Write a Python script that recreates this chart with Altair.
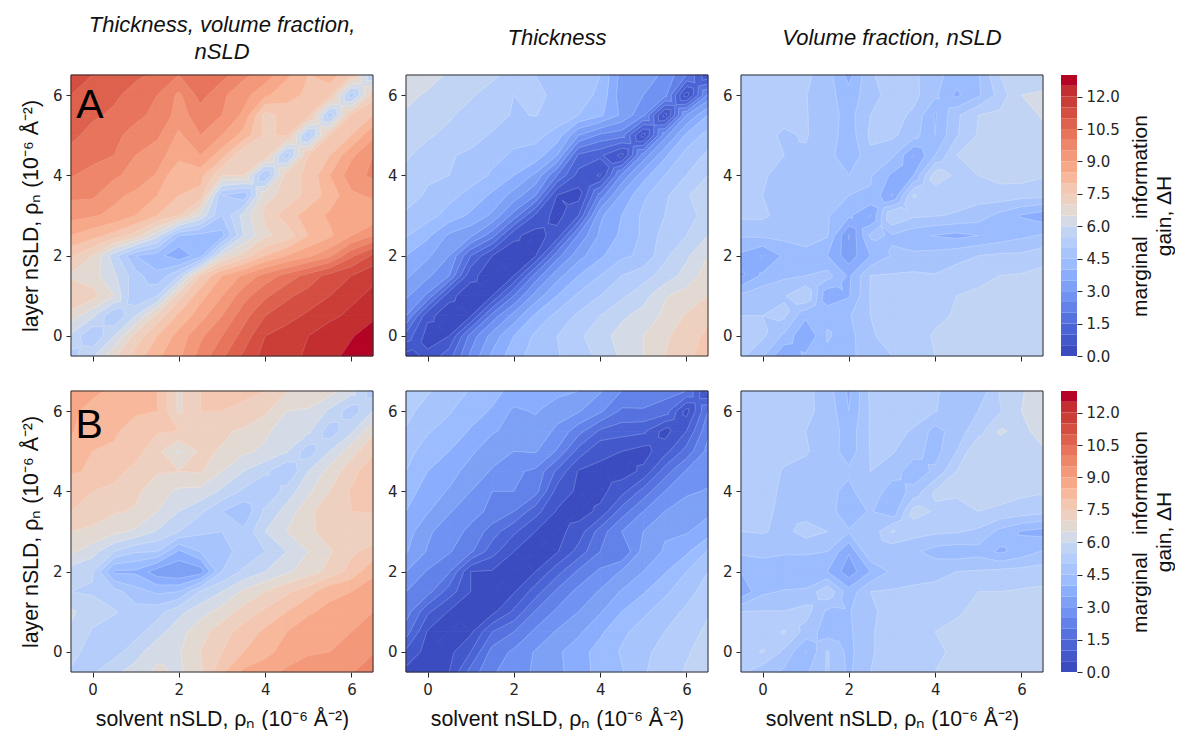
import altair as alt
import pandas as pd

AXIS_STEPS = [-0.5, 0.0, 0.5, 1.0, 1.5, 2.0, 2.5, 3.0, 3.5, 4.0, 4.5, 5.0, 5.5, 6.0, 6.5]
LEVELS = [i * 0.5 for i in range(27)]
BAND_COLORS = ["#3b4cc0", "#4358cb", "#4b64d5", "#5572df", "#6282ea", "#7093f3", "#7ea1f6", "#8badfd", "#9bbcff",
               "#a8c4fd", "#b5cdfa", "#c1d4f4", "#d4dbe6", "#e3d9d3", "#eed0c0", "#f3c7b1", "#f7b89c", "#f7a889",
               "#f4987a", "#ee8669", "#e7745b", "#de614d", "#d44e41", "#cb3e38", "#c32e31", "#b40426"]

# Rows run from layer nSLD 6.5 (first) down to -0.5 (last); columns from solvent nSLD -0.5 to 6.5.
PANEL_A1 = [
    [11.1, 11.0, 10.9, 10.6, 10.4, 10.0, 10.4, 10.2, 9.6, 9.3, 8.6, 8.0, 8.3, 7.5, 5.5],
    [11.0, 10.8, 10.6, 10.3, 10.0, 9.4, 10.2, 9.6, 9.2, 8.6, 8.2, 7.9, 7.6, 5.2, 7.3],
    [10.9, 10.6, 10.4, 10.1, 9.9, 9.3, 9.75, 9.5, 8.9, 7.3, 7.7, 7.7, 5.2, 7.6, 8.0],
    [10.65, 10.3, 10.1, 9.85, 9.6, 8.9, 9.5, 9.0, 8.3, 7.4, 7.6, 5.2, 7.5, 8.0, 8.9],
    [10.3, 10.2, 10.0, 9.5, 9.2, 8.7, 9.0, 8.2, 7.0, 7.4, 5.2, 7.5, 8.0, 8.9, 9.5],
    [10.05, 9.8, 9.6, 9.3, 8.95, 8.0, 8.2, 7.0, 7.0, 4.9, 7.3, 7.6, 8.5, 9.3, 9.6],
    [9.6, 9.6, 9.1, 8.9, 8.5, 8.0, 7.8, 5.0, 4.6, 6.9, 7.1, 7.7, 8.2, 8.9, 9.1],
    [9.2, 9.05, 8.9, 8.5, 8.0, 7.5, 6.4, 5.0, 6.2, 7.1, 7.8, 8.2, 8.6, 8.8, 8.6],
    [8.5, 8.2, 7.8, 7.3, 6.2, 4.5, 4.3, 4.3, 6.0, 6.9, 7.2, 8.0, 8.4, 9.0, 9.5],
    [7.6, 7.0, 5.7, 4.5, 4.2, 3.6, 4.3, 6.5, 7.2, 8.0, 8.5, 8.9, 9.4, 10.4, 11.1],
    [6.9, 6.7, 6.1, 5.2, 4.6, 5.5, 7.5, 8.5, 9.1, 9.7, 10.2, 10.7, 11.2, 11.5, 11.9],
    [7.5, 7.2, 6.5, 5.0, 5.5, 7.3, 8.3, 9.0, 9.8, 10.4, 10.9, 11.2, 11.5, 11.9, 12.1],
    [6.8, 6.1, 5.0, 6.0, 7.2, 8.1, 8.8, 9.5, 10.3, 11.0, 11.3, 11.6, 11.9, 12.1, 12.4],
    [5.9, 5.0, 6.0, 7.2, 8.0, 8.7, 9.4, 10.0, 10.7, 11.5, 11.75, 12.0, 12.25, 12.45, 12.8],
    [5.3, 5.9, 6.9, 7.7, 8.4, 8.9, 9.7, 10.4, 11.1, 11.7, 11.9, 12.05, 12.3, 12.7, 12.95],
]
PANEL_A2 = [
    [6.3, 6.15, 5.95, 5.8, 5.6, 5.3, 5.0, 4.9, 4.7, 4.5, 3.3, 3.25, 2.9, 2.0, 0.6],
    [6.1, 5.95, 5.75, 5.55, 5.3, 5.0, 5.1, 4.9, 4.7, 4.4, 3.2, 3.0, 2.7, 0.25, 2.6],
    [5.95, 5.75, 5.55, 5.35, 5.2, 4.95, 5.02, 4.8, 4.5, 4.1, 3.4, 2.6, 0.3, 3.0, 4.0],
    [5.75, 5.55, 5.4, 5.2, 4.95, 4.6, 4.65, 4.3, 3.0, 2.4, 2.2, 0.3, 2.8, 4.1, 4.7],
    [5.55, 5.35, 5.05, 4.9, 4.6, 4.45, 4.3, 3.5, 1.4, 1.1, 0.35, 2.7, 3.9, 4.7, 5.1],
    [5.4, 5.05, 5.0, 4.7, 4.45, 4.0, 3.4, 2.0, 0.8, 0.45, 2.6, 3.8, 4.5, 5.0, 5.5],
    [5.15, 4.95, 4.65, 4.35, 3.9, 3.3, 2.5, 0.48, 0.3, 2.2, 3.6, 4.4, 4.9, 5.45, 5.8],
    [4.95, 4.7, 4.3, 3.9, 3.4, 2.3, 0.9, 0.3, 1.0, 3.4, 4.0, 4.6, 5.0, 5.4, 5.6],
    [4.55, 4.1, 3.4, 3.1, 2.2, 0.6, 0.3, 0.7, 2.6, 3.6, 4.1, 4.6, 5.2, 5.5, 6.0],
    [4.0, 3.6, 3.0, 1.5, 0.5, 0.25, 0.45, 2.3, 3.3, 3.9, 4.4, 4.6, 5.4, 5.9, 6.5],
    [3.6, 3.1, 2.5, 0.6, 0.3, 0.5, 2.2, 3.3, 4.0, 4.5, 5.0, 5.3, 5.7, 6.2, 6.75],
    [3.1, 2.4, 0.6, 0.3, 0.5, 2.0, 3.2, 4.0, 4.6, 5.0, 5.4, 5.8, 6.45, 6.7, 7.0],
    [2.5, 0.6, 0.3, 0.45, 2.2, 3.2, 4.1, 4.65, 5.1, 5.5, 5.9, 6.2, 6.6, 7.05, 7.4],
    [1.3, 0.3, 0.5, 2.2, 3.2, 4.0, 4.6, 5.0, 5.4, 5.8, 6.2, 6.5, 6.9, 7.3, 7.6],
    [0.3, 0.6, 1.3, 2.6, 3.6, 4.3, 4.7, 4.95, 5.3, 5.6, 6.1, 6.5, 7.0, 7.4, 7.7],
]
PANEL_A3 = [
    [5.2, 5.2, 5.15, 5.1, 4.75, 3.8, 4.95, 5.2, 5.1, 4.7, 4.2, 4.45, 5.5, 5.8, 5.8],
    [5.2, 5.2, 5.15, 5.02, 4.7, 4.2, 4.8, 5.2, 5.15, 4.6, 3.9, 4.4, 5.2, 6.0, 6.05],
    [5.15, 5.15, 5.1, 5.03, 4.75, 4.3, 5.0, 5.2, 4.9, 3.95, 4.9, 5.5, 5.6, 5.8, 6.05],
    [5.15, 5.1, 4.95, 5.03, 4.8, 4.2, 5.1, 5.1, 4.7, 4.0, 4.95, 5.55, 5.7, 5.8, 5.85],
    [5.1, 5.1, 5.0, 4.95, 4.75, 4.05, 4.9, 4.6, 3.45, 4.5, 5.5, 5.65, 5.75, 5.85, 5.85],
    [5.1, 5.05, 4.85, 4.8, 4.7, 4.5, 4.55, 3.9, 4.0, 5.8, 5.4, 5.5, 5.65, 5.7, 5.55],
    [5.1, 5.0, 4.85, 4.75, 4.7, 4.5, 4.45, 3.45, 5.55, 5.2, 5.2, 5.2, 5.3, 5.2, 5.15],
    [5.1, 5.1, 4.8, 4.7, 4.55, 4.1, 3.45, 5.5, 5.1, 5.03, 4.95, 4.75, 4.35, 3.95, 3.7],
    [4.55, 4.6, 4.65, 4.7, 4.55, 2.95, 4.6, 4.45, 4.15, 3.97, 3.85, 4.0, 4.2, 4.4, 4.55],
    [3.9, 3.45, 4.1, 4.35, 4.0, 3.2, 4.0, 4.55, 4.6, 4.7, 4.85, 5.0, 5.1, 5.1, 5.3],
    [3.4, 4.1, 4.4, 4.5, 4.7, 3.9, 5.0, 5.05, 5.1, 5.03, 5.2, 5.35, 5.5, 5.55, 5.65],
    [4.6, 4.85, 4.95, 5.5, 3.6, 3.95, 5.03, 5.2, 5.25, 5.35, 5.5, 5.6, 5.65, 5.7, 5.75],
    [5.0, 5.0, 5.1, 4.1, 4.4, 4.45, 5.0, 5.2, 5.3, 5.4, 5.55, 5.65, 5.7, 5.75, 5.8],
    [5.3, 5.1, 4.4, 3.5, 4.55, 4.3, 4.95, 5.15, 5.3, 5.55, 5.65, 5.7, 5.75, 5.8, 5.85],
    [5.1, 4.55, 3.5, 4.1, 4.4, 4.3, 4.9, 5.0, 5.2, 5.5, 5.6, 5.65, 5.7, 5.8, 5.85],
]
PANEL_B1 = [
    [8.75, 8.6, 8.4, 8.2, 8.0, 6.9, 7.5, 7.6, 7.55, 7.5, 7.0, 6.8, 6.7, 6.2, 5.2],
    [8.6, 8.35, 8.15, 8.05, 8.0, 6.9, 7.5, 7.5, 7.45, 7.1, 6.5, 6.45, 5.9, 5.2, 6.0],
    [8.55, 8.2, 8.05, 7.85, 7.55, 7.5, 7.35, 7.1, 6.9, 6.6, 6.2, 6.1, 5.2, 5.9, 6.9],
    [8.3, 8.0, 7.95, 7.7, 7.15, 6.4, 7.1, 6.95, 6.6, 6.4, 6.05, 5.2, 6.0, 6.8, 7.4],
    [8.05, 7.95, 7.65, 7.35, 7.05, 7.0, 7.05, 6.5, 6.0, 5.6, 5.0, 6.0, 6.7, 7.3, 7.9],
    [7.7, 7.5, 7.4, 7.1, 6.7, 6.4, 6.35, 5.9, 5.4, 5.05, 5.7, 6.4, 7.0, 7.55, 7.9],
    [7.5, 7.25, 7.05, 6.95, 6.5, 6.0, 5.6, 5.0, 4.6, 5.6, 6.2, 6.85, 7.35, 7.5, 7.55],
    [7.0, 6.9, 6.65, 6.4, 5.95, 5.5, 5.1, 5.0, 5.1, 6.0, 6.5, 6.9, 7.2, 7.2, 7.1],
    [6.6, 6.2, 5.5, 5.05, 5.0, 3.9, 4.5, 4.9, 5.1, 5.5, 6.0, 6.5, 6.95, 7.4, 7.7],
    [5.75, 5.55, 3.9, 3.9, 3.2, 3.0, 3.2, 5.0, 5.6, 6.0, 6.4, 6.75, 7.15, 7.7, 8.4],
    [5.5, 5.45, 5.2, 4.7, 4.4, 4.5, 5.55, 6.0, 6.6, 7.0, 7.4, 7.8, 8.4, 8.5, 8.75],
    [6.1, 5.7, 5.55, 5.2, 5.3, 5.85, 6.3, 6.7, 7.2, 7.6, 8.0, 8.45, 8.6, 8.85, 9.0],
    [5.9, 5.45, 5.2, 5.3, 5.8, 6.3, 6.8, 7.3, 7.7, 8.1, 8.5, 8.7, 8.9, 9.0, 9.2],
    [5.8, 5.1, 5.3, 5.8, 6.35, 6.45, 7.0, 7.5, 8.0, 8.35, 8.7, 8.95, 9.0, 9.0, 9.45],
    [5.4, 5.4, 5.9, 6.2, 6.6, 6.4, 6.9, 7.9, 8.6, 8.8, 9.1, 9.25, 9.4, 9.45, 9.9],
]
PANEL_B2 = [
    [5.3, 5.05, 4.8, 4.45, 4.15, 3.85, 3.75, 3.65, 3.5, 3.05, 2.5, 2.3, 2.15, 2.0, 0.4],
    [5.15, 4.8, 4.55, 4.2, 3.95, 3.4, 3.55, 3.2, 3.05, 2.6, 1.9, 1.95, 1.8, 0.3, 2.0],
    [4.95, 4.55, 4.3, 3.95, 3.55, 3.35, 3.3, 2.9, 2.2, 1.4, 1.2, 1.1, 0.3, 1.0, 2.4],
    [4.7, 4.25, 4.0, 3.6, 3.2, 3.0, 3.05, 2.45, 1.3, 0.55, 0.5, 0.3, 0.8, 1.7, 2.65],
    [4.5, 4.0, 3.7, 3.3, 2.95, 2.6, 2.4, 1.4, 0.45, 0.45, 0.28, 0.6, 1.75, 2.55, 2.75],
    [4.25, 3.75, 3.45, 3.0, 2.5, 2.5, 2.2, 0.8, 0.4, 0.35, 0.8, 1.7, 2.5, 2.9, 3.05],
    [4.0, 3.55, 3.05, 2.65, 2.4, 2.0, 1.2, 0.45, 0.3, 0.6, 1.75, 2.5, 3.0, 3.3, 3.4],
    [3.75, 3.1, 2.7, 2.4, 1.75, 1.1, 0.5, 0.35, 0.7, 1.75, 2.5, 3.0, 3.45, 3.45, 3.75],
    [3.55, 2.95, 2.55, 2.1, 1.2, 0.5, 0.4, 0.45, 1.2, 2.0, 2.0, 3.2, 3.55, 3.9, 4.55],
    [3.0, 2.45, 2.05, 0.5, 0.45, 0.4, 0.5, 1.3, 2.1, 2.6, 3.05, 3.5, 3.95, 4.5, 5.0],
    [2.5, 2.2, 1.25, 0.5, 0.35, 0.45, 1.25, 2.1, 2.65, 3.05, 3.55, 3.95, 4.4, 4.8, 5.25],
    [2.25, 1.1, 0.45, 0.3, 0.35, 1.1, 2.05, 2.6, 3.0, 3.45, 4.0, 4.4, 4.75, 5.1, 5.45],
    [1.75, 0.45, 0.3, 0.4, 1.5, 2.0, 2.6, 3.05, 3.4, 3.9, 4.4, 4.7, 5.0, 5.3, 5.6],
    [0.9, 0.3, 0.35, 1.0, 2.2, 2.6, 3.05, 3.4, 3.8, 4.2, 4.55, 4.9, 5.15, 5.45, 5.7],
    [0.35, 0.35, 0.5, 1.7, 2.45, 2.7, 3.1, 3.35, 3.8, 4.15, 4.45, 4.95, 5.25, 5.55, 5.85],
]
PANEL_B3 = [
    [5.3, 5.3, 5.25, 5.15, 4.75, 3.9, 5.1, 5.3, 5.25, 5.05, 4.8, 4.6, 5.55, 5.95, 6.3],
    [5.3, 5.25, 5.2, 5.1, 4.85, 4.0, 5.05, 5.2, 5.2, 5.02, 4.8, 5.0, 5.45, 6.0, 6.2],
    [5.25, 5.2, 5.1, 5.0, 4.9, 4.2, 5.05, 5.15, 4.95, 4.3, 4.75, 5.3, 6.05, 5.9, 6.15],
    [5.2, 5.15, 5.1, 5.03, 4.85, 4.2, 5.03, 5.05, 4.7, 4.3, 5.0, 6.0, 5.8, 5.85, 5.95],
    [5.2, 5.15, 4.97, 4.9, 4.85, 4.6, 5.0, 4.75, 4.2, 4.6, 5.5, 5.7, 5.8, 5.85, 5.85],
    [5.2, 5.1, 4.95, 4.8, 4.65, 4.35, 4.9, 4.2, 4.65, 5.55, 5.55, 5.65, 5.7, 5.6, 5.55],
    [5.15, 5.1, 4.9, 4.8, 4.7, 4.2, 4.55, 4.1, 5.7, 5.45, 5.4, 5.5, 5.4, 5.3, 5.15],
    [5.0, 5.05, 4.85, 5.2, 5.0, 4.55, 4.6, 5.55, 5.2, 5.1, 5.05, 4.9, 4.35, 3.95, 3.8],
    [4.6, 4.55, 4.6, 4.6, 4.5, 3.55, 5.0, 4.65, 4.6, 4.3, 4.2, 4.3, 3.9, 4.2, 4.55],
    [4.0, 4.4, 4.0, 4.0, 4.0, 3.2, 4.0, 4.6, 4.8, 4.85, 5.0, 5.05, 5.15, 5.2, 5.25],
    [3.6, 4.4, 4.55, 4.6, 5.4, 4.2, 5.0, 5.05, 5.1, 5.15, 5.3, 5.5, 5.5, 5.55, 5.6],
    [5.0, 5.03, 5.02, 5.2, 4.4, 4.45, 4.95, 5.1, 5.2, 5.3, 5.45, 5.6, 5.65, 5.7, 5.75],
    [5.15, 5.2, 5.55, 4.8, 4.25, 4.4, 4.95, 5.2, 5.3, 5.5, 5.6, 5.7, 5.75, 5.8, 5.8],
    [5.2, 5.55, 4.9, 3.95, 5.05, 4.35, 4.95, 5.2, 5.35, 5.45, 5.55, 5.7, 5.75, 5.8, 5.85],
    [5.1, 4.7, 4.4, 4.4, 5.05, 4.4, 5.0, 5.2, 5.3, 5.5, 5.65, 5.7, 5.75, 5.8, 5.85],
]

COLUMN_TITLES = [["Thickness, volume fraction,", "nSLD"], "Thickness", "Volume fraction, nSLD"]
X_TITLE = "solvent nSLD, ρₙ (10⁻⁶ Å⁻²)"
Y_TITLE = "layer nSLD, ρₙ (10⁻⁶ Å⁻²)"
BAR_TITLE = ["marginal\u00a0\u00a0\u00a0information", "gain, ΔH"]
X_TICKS = [0, 2, 4, 6]
BAR_TICKS = [0, 1.5, 3, 4.5, 6, 7.5, 9, 10.5, 12]
LETTERS = [("A", -0.06, 5.72), ("B", -0.08, 5.62)]

SANS = "Liberation Sans"
TICKS = "DejaVu Sans"
INK = "#262626"
domain = [AXIS_STEPS[0], AXIS_STEPS[-1]]


def clip(poly, level, keep_above):
    out = []
    for i, p in enumerate(poly):
        q = poly[(i + 1) % len(poly)]
        pin = p[2] >= level if keep_above else p[2] <= level
        qin = q[2] >= level if keep_above else q[2] <= level
        if pin:
            out.append(p)
        if pin != qin:
            t = (level - p[2]) / (q[2] - p[2])
            out.append((p[0] + t * (q[0] - p[0]), p[1] + t * (q[1] - p[1]), level))
    return out


def chords(poly):
    xs = sorted({round(p[0], 4) for p in poly})
    if len(xs) < 2:
        return []
    rows = []
    for x in xs:
        ys = []
        for i, p in enumerate(poly):
            q = poly[(i + 1) % len(poly)]
            a, b = round(p[0], 4), round(q[0], 4)
            if min(a, b) <= x <= max(a, b):
                if a == b:
                    ys += [p[1], q[1]]
                else:
                    ys.append(p[1] + (x - a) / (b - a) * (q[1] - p[1]))
        rows.append((x, round(min(ys), 4), round(max(ys), 4)))
    return rows


def cell_pieces(rows, i, j):
    """Cell polygons: a quad, or four triangles around the mean when the cell is a saddle."""
    y = AXIS_STEPS
    top = len(y) - 1
    a = (y[i], y[j], rows[top - j][i])
    b = (y[i + 1], y[j], rows[top - j][i + 1])
    c = (y[i + 1], y[j + 1], rows[top - j - 1][i + 1])
    d = (y[i], y[j + 1], rows[top - j - 1][i])
    if min(a[2], c[2]) > max(b[2], d[2]) or min(b[2], d[2]) > max(a[2], c[2]):
        m = ((a[0] + c[0]) / 2, (a[1] + c[1]) / 2, (a[2] + b[2] + c[2] + d[2]) / 4)
        return [[a, b, m], [b, c, m], [c, d, m], [d, a, m]]
    return [[a, b, c, d]]


def band_table(rows):
    pieces = [p for i in range(14) for j in range(14) for p in cell_pieces(rows, i, j)]
    out = []
    pid = 0
    for band in range(len(BAND_COLORS)):
        lo, hi = LEVELS[band], LEVELS[band + 1]
        for piece in pieces:
            if max(v[2] for v in piece) < lo or min(v[2] for v in piece) > hi:
                continue
            poly = clip(piece, lo, True)
            if poly:
                poly = clip(poly, hi, False)
            if len(poly) < 3:
                continue
            for x, y0, y1 in chords(poly):
                out.append({"x": x, "y": y0, "y2": y1, "p": pid, "b": band})
            pid += 1
    return pd.DataFrame(out)


def seam_table(rows):
    pieces = [p for i in range(14) for j in range(14) for p in cell_pieces(rows, i, j)]
    out = []
    for level in LEVELS[1:-1]:
        for piece in pieces:
            hits = []
            for k, p in enumerate(piece):
                q = piece[(k + 1) % len(piece)]
                if (p[2] < level) != (q[2] < level):
                    t = (level - p[2]) / (q[2] - p[2])
                    hits.append((p[0] + t * (q[0] - p[0]), p[1] + t * (q[1] - p[1])))
            if len(hits) == 2:
                out.append({"x": round(hits[0][0], 4), "y": round(hits[0][1], 4),
                            "x2": round(hits[1][0], 4), "y2": round(hits[1][1], 4)})
    return pd.DataFrame(out)


band_scale = alt.Scale(domain=list(range(len(BAND_COLORS))), range=BAND_COLORS)
frame_table = pd.DataFrame({"x": [domain[0]], "x2": [domain[1]], "y": [domain[0]], "y2": [domain[1]]})


def panel(rows, title=None, xlabels=False, ylabel=False, letter=None):
    x_axis = alt.Axis(values=X_TICKS, grid=False, domain=False, labels=xlabels, tickSize=5, tickColor=INK,
                      labelFont=TICKS, labelFontSize=15, labelColor=INK, labelPadding=5, format="d",
                      title=X_TITLE if xlabels else None, titleFont=SANS, titleFontSize=21.3, titleFontWeight="normal",
                      titleColor="#111111", titlePadding=11)
    y_axis = alt.Axis(values=X_TICKS, grid=False, domain=False, tickSize=5, tickColor=INK, labelFont=TICKS,
                      labelFontSize=15, labelColor=INK, labelPadding=4, format="d",
                      title=Y_TITLE if ylabel else None, titleFont=SANS, titleFontSize=21.3, titleFontWeight="normal",
                      titleColor="#111111", titlePadding=11)
    scale_x = alt.Scale(domain=domain, nice=False, zero=False)
    scale_y = alt.Scale(domain=domain, nice=False, zero=False)
    bands = alt.Chart(band_table(rows)).mark_area(strokeWidth=0.9, opacity=1).encode(
        x=alt.X("x:Q", scale=scale_x, axis=x_axis),
        y=alt.Y("y:Q", scale=scale_y, axis=y_axis),
        y2="y2:Q",
        detail="p:N",
        fill=alt.Fill("b:O", scale=band_scale, legend=None),
        stroke=alt.Stroke("b:O", scale=band_scale, legend=None),
    )
    seams = alt.Chart(seam_table(rows)).mark_rule(color="#ffffff", strokeWidth=0.6, opacity=0.3).encode(
        x=alt.X("x:Q", scale=scale_x), x2="x2:Q", y=alt.Y("y:Q", scale=scale_y), y2="y2:Q")
    frame = alt.Chart(frame_table).mark_rect(fillOpacity=0, stroke="#303030", strokeWidth=1).encode(
        x=alt.X("x:Q", scale=scale_x), x2="x2:Q", y=alt.Y("y:Q", scale=scale_y), y2="y2:Q")
    layers = [bands, seams, frame]
    if letter:
        tx = pd.DataFrame([{"t": letter[0], "x": letter[1], "y": letter[2]}])
        layers.append(alt.Chart(tx).mark_text(font=SANS, fontSize=41, color="#000000").encode(
            x=alt.X("x:Q", scale=scale_x), y=alt.Y("y:Q", scale=scale_y), text="t:N"))
    kw = {"width": 302, "height": 281}
    if title is not None:
        two = isinstance(title, list)
        kw["title"] = alt.TitleParams(text=title, font=SANS, fontSize=22, fontStyle="italic", fontWeight="normal",
                                      color="#111111", anchor="middle", frame="group", lineHeight=27,
                                      offset=9 if two else 23)
    return alt.layer(*layers).properties(**kw)


def colorbar():
    t = pd.DataFrame({"lo": LEVELS[:-1], "hi": LEVELS[1:], "b": list(range(len(BAND_COLORS)))})
    return alt.Chart(t).mark_rect().encode(
        x=alt.value(-15), x2=alt.value(1),
        y=alt.Y("lo:Q", scale=alt.Scale(domain=[LEVELS[0], LEVELS[-1]], nice=False, zero=False),
                axis=alt.Axis(orient="right", values=BAR_TICKS, format=".1f", grid=False, domain=False, tickSize=5,
                              tickColor=INK, labelFont=TICKS, labelFontSize=15, labelColor=INK, labelPadding=4,
                              title=BAR_TITLE, titleFont=SANS, titleFontSize=21, titleFontWeight="normal",
                              titleColor="#111111", titleAngle=270, titleLineHeight=24, titlePadding=7)),
        y2="hi:Q",
        fill=alt.Fill("b:O", scale=band_scale, legend=None),
    ).properties(width=1, height=281)


chart = alt.concat(
    panel(PANEL_A1, COLUMN_TITLES[0], ylabel=True, letter=LETTERS[0]),
    panel(PANEL_A2, COLUMN_TITLES[1]),
    panel(PANEL_A3, COLUMN_TITLES[2]),
    colorbar(),
    panel(PANEL_B1, None, xlabels=True, ylabel=True, letter=LETTERS[1]),
    panel(PANEL_B2, None, xlabels=True),
    panel(PANEL_B3, None, xlabels=True),
    colorbar(),
    columns=4, spacing=alt.RowColnumber(row=35, column=33), bounds="flush",
).properties(padding={"left": 12, "top": 6, "right": 0, "bottom": 0}, background="white"
).configure_view(stroke=None)

chart.save("out.html", embed_options={"renderer": "svg", "actions": False})
